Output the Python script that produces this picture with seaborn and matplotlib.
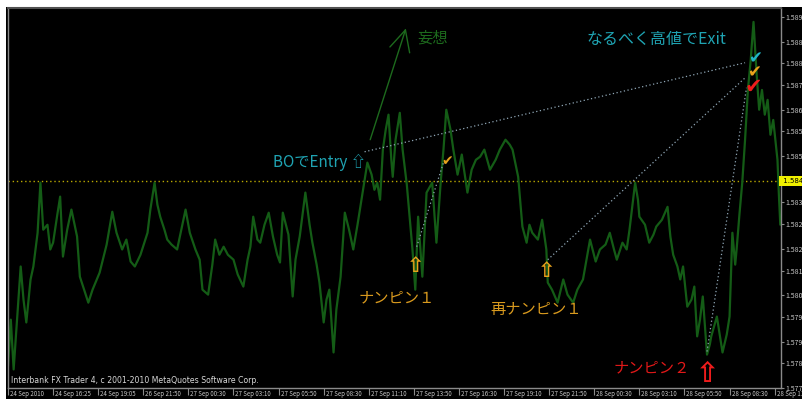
import matplotlib
matplotlib.use("Agg")
import matplotlib.pyplot as plt
import matplotlib.transforms as mtrans
import seaborn as sns
import pandas as pd
from matplotlib.patches import Rectangle

# ---------------- data ----------------
bars = [0, 2, 4, 9, 11, 13, 16, 18, 21, 23, 25, 28, 30, 32, 35, 37, 39, 42, 45, 49,
        51, 54, 57, 60, 65, 70, 74, 77, 81, 84, 87, 90, 94, 99, 101, 104, 106, 108, 111, 113,
        116, 120, 123, 126, 129, 133, 136, 138, 142, 145, 147, 150, 153, 156, 160, 163, 167, 170, 172, 174,
        177, 179, 182, 185, 188, 191, 193, 195, 199, 202, 204, 207, 209, 211, 214, 216, 219, 221, 224, 226,
        228, 231, 233, 236, 239, 242, 245, 248, 250, 253, 255, 258, 260, 262, 264, 266, 268, 270, 272, 273,
        275, 278, 280, 283, 285, 287, 289, 291, 294, 297, 301, 304, 307, 309, 311, 314, 316, 319, 322, 326,
        329, 332, 335, 338, 342, 346, 349, 353, 356, 358, 362, 365, 368, 370, 372, 376, 379, 382, 383, 386,
        390, 394, 397, 401, 404, 408, 413, 417, 420, 424, 427, 430, 432, 436, 439, 441, 445, 447, 448, 452,
        455, 458, 460, 464, 468, 470, 472, 475, 477, 479, 482, 485, 487, 489, 491, 493, 496, 498, 499, 503,
        505, 507, 510, 512, 514, 516, 517, 519, 521, 523, 525, 527, 529, 531, 533, 535, 537, 539, 541, 543,
        546, 547, 548]
prices = [1.57830, 1.57981, 1.57820, 1.58153, 1.58046, 1.57972, 1.58111, 1.58153, 1.58262, 1.58424,
          1.58272, 1.58288, 1.58208, 1.58230, 1.58321, 1.58379, 1.58185, 1.58272, 1.58337, 1.58250,
          1.58120, 1.58078, 1.58036, 1.58078, 1.58133, 1.58224, 1.58330, 1.58262, 1.58208, 1.58240,
          1.58169, 1.58153, 1.58191, 1.58262, 1.58337, 1.58424, 1.58353, 1.58314, 1.58272, 1.58240,
          1.58224, 1.58208, 1.58272, 1.58337, 1.58262, 1.58208, 1.58175, 1.58078, 1.58062, 1.58159,
          1.58240, 1.58191, 1.58217, 1.58191, 1.58175, 1.58127, 1.58088, 1.58175, 1.58217, 1.58314,
          1.58240, 1.58230, 1.58288, 1.58327, 1.58250, 1.58191, 1.58166, 1.58327, 1.58256, 1.58056,
          1.58175, 1.58250, 1.58321, 1.58392, 1.58288, 1.58230, 1.58159, 1.58101, 1.57972, 1.58046,
          1.58078, 1.57875, 1.58014, 1.58120, 1.58327, 1.58272, 1.58208, 1.58288, 1.58346, 1.58434,
          1.58489, 1.58450, 1.58401, 1.58424, 1.58369, 1.58531, 1.58595, 1.58644, 1.58498, 1.58443,
          1.58563, 1.58650, 1.58531, 1.58417, 1.58314, 1.58208, 1.58078, 1.58314, 1.58120, 1.58392,
          1.58424, 1.58230, 1.58424, 1.58531, 1.58660, 1.58595, 1.58531, 1.58450, 1.58515, 1.58392,
          1.58466, 1.58498, 1.58508, 1.58531, 1.58466, 1.58498, 1.58531, 1.58563, 1.58547, 1.58531,
          1.58443, 1.58282, 1.58230, 1.58288, 1.58262, 1.58240, 1.58304, 1.58208, 1.58101, 1.58078,
          1.58036, 1.58111, 1.58062, 1.58036, 1.58078, 1.58111, 1.58240, 1.58169, 1.58208, 1.58224,
          1.58262, 1.58208, 1.58175, 1.58230, 1.58208, 1.58272, 1.58424, 1.58369, 1.58314, 1.58288,
          1.58230, 1.58256, 1.58282, 1.58304, 1.58346, 1.58250, 1.58191, 1.58153, 1.58111, 1.58153,
          1.58023, 1.58046, 1.58088, 1.57927, 1.57981, 1.58056, 1.57868, 1.57901, 1.57927, 1.57991,
          1.57933, 1.57875, 1.57933, 1.57991, 1.58262, 1.58159, 1.58208, 1.58321, 1.58424, 1.58563,
          1.58724, 1.58821, 1.58944, 1.58789, 1.58660, 1.58724, 1.58644, 1.58692, 1.58579, 1.58627,
          1.58498, 1.58385, 1.58288]

bid_price = 1.58430
bid_label = "1.5843"

ytick_labels = ["1.5896", "1.5888", "1.5881", "1.5874", "1.5866", "1.5859", "1.5851",
                "1.5836", "1.5829", "1.5821", "1.5814", "1.5806", "1.5799", "1.5791",
                "1.5784", "1.5776"]
xtick_bars = [0, 32, 64, 96, 128, 160, 192, 224, 256, 288, 320, 352, 384, 416, 448, 480, 512, 544]
xtick_labels = ["24 Sep 2010", "24 Sep 16:25", "24 Sep 19:05", "26 Sep 21:50", "27 Sep 00:30",
                "27 Sep 03:10", "27 Sep 05:50", "27 Sep 08:30", "27 Sep 11:10", "27 Sep 13:50",
                "27 Sep 16:30", "27 Sep 19:10", "27 Sep 21:50", "28 Sep 00:30", "28 Sep 03:10",
                "28 Sep 05:50", "28 Sep 08:30", "28 Sep 11:10"]

# annotation anchors (bar, price)
dotted_from_bar = [253, 290, 383, 496]
dotted_from_price = [1.58524, 1.58217, 1.58175, 1.57878]
dotted_to_bar = [523, 309, 523, 524]
dotted_to_price = [1.58812, 1.58489, 1.58763, 1.58731]

check_bar = [530, 529, 529, 312]
check_price = [1.58826, 1.58782, 1.58734, 1.58495]
check_color = ["#21b5c4", "#e8a21c", "#ee1c1c", "#e8a21c"]
check_size = [12, 12, 15, 10]

arrow_bar = [289, 382, 496]
arrow_price = [1.58156, 1.58140, 1.57805]
arrow_color = ["#e8a21c", "#e8a21c", "#ee1c1c"]
arrow_size = [15, 15, 20]

label_texts = ["ナンピン１", "再ナンピン１", "ナンピン２", "なるべく高値でExit", "妄想"]
label_bar = [276, 375, 457, 460, 301]
label_price = [1.58053, 1.58014, 1.57826, 1.58886, 1.58892]
label_color = ["#d99a1e", "#d99a1e", "#e01818", "#1fa3b2", "#1d6a1d"]
label_size = [11, 11, 11, 11.5, 11]

hand_bar = [257, 282, 271, 282, 285]
hand_price = [1.58563, 1.58918, 1.58863, 1.58918, 1.58844]

entry_text = "BOでEntry ⇧"
entry_bar, entry_price = 254, 1.58489

# ---------------- figure ----------------
sns.set_theme(style="dark")
plt.rcParams["font.family"] = ["Noto Sans CJK JP", "DejaVu Sans"]

W, H = 803, 399
fig = plt.figure(figsize=(W / 100, H / 100), dpi=100, facecolor="white")
fig.patches.append(Rectangle((6 / W, 0), 1, (H - 7) / H, transform=fig.transFigure,
                             facecolor="black", edgecolor="none", zorder=-10))
ax = fig.add_axes([8 / W, (H - 388) / H, (781 - 8) / W, (388 - 8) / H])
ax.set_facecolor("black")

df = pd.DataFrame({"bar": bars, "price": prices})
sns.lineplot(data=df, x="bar", y="price", ax=ax, color="#145c16", lw=1.6,
             estimator=None, sort=False, zorder=2)

ax.set_xlim(0, 548.5)
ax.set_ylim(1.57760, 1.58989)
ax.set_xlabel("")
ax.set_ylabel("")
ax.grid(False)

for s in ax.spines.values():
    s.set_color("#8a8a8a")
    s.set_linewidth(1.0)
ax.spines["top"].set_color("#505050")
ax.spines["top"].set_linewidth(1.5)

# right price axis
ax.yaxis.tick_right()
ax.set_yticks([float(v) for v in ytick_labels])
ax.set_yticklabels(ytick_labels)
ax.tick_params(axis="y", which="both", right=True, left=False, length=2, width=0.8,
               color="#8a8a8a", labelsize=5, labelcolor="#c8c8c8", pad=1)

# bottom time axis
ax.set_xticks(xtick_bars)
ax.set_xticklabels(xtick_labels, ha="left")
ax.tick_params(axis="x", which="both", bottom=True, length=5, width=0.8,
               color="#8a8a8a", labelsize=4.4, labelcolor="#c8c8c8", pad=-3.2)
for lab in ax.get_xticklabels():
    lab.set_transform(lab.get_transform() + mtrans.ScaledTranslation(2 / 100, 0, fig.dpi_scale_trans))

# bid line
ax.axhline(bid_price, color="#b8a800", lw=1.0, ls=(0, (1, 2)), zorder=1)
fig.text(781.5 / W, 1 - 181 / H, " " + bid_label + "   ", fontsize=5, color="black",
         va="center", ha="left", family=["DejaVu Sans"],
         bbox=dict(boxstyle="square,pad=0.3", fc="#f0f000", ec="none"), zorder=10)

# dotted connector lines
for xb, yb, xe, ye in zip(dotted_from_bar, dotted_from_price, dotted_to_bar, dotted_to_price):
    ax.plot([xb, xe], [yb, ye], color="#8fa6b5", lw=0.9, ls=(0, (1, 2)), zorder=3)

# hand drawn arrow
ax.plot(hand_bar[:2], hand_price[:2], color="#1d6a1d", lw=1.0, zorder=3)
ax.plot(hand_bar[2:4], hand_price[2:4], color="#1d6a1d", lw=1.0, zorder=3)
ax.plot(hand_bar[3:], hand_price[3:], color="#1d6a1d", lw=1.0, zorder=3)

# check marks
for xb, yb, c, s in zip(check_bar, check_price, check_color, check_size):
    ax.text(xb, yb, "✔", color=c, fontsize=s, ha="center", va="center",
            family=["DejaVu Sans"], zorder=5)

# up arrows
for xb, yb, c, s in zip(arrow_bar, arrow_price, arrow_color, arrow_size):
    ax.text(xb, yb, "⇧", color=c, fontsize=s, ha="center", va="center",
            family=["DejaVu Sans"], zorder=5, fontweight="bold")

# texts
for t, xb, yb, c, s in zip(label_texts, label_bar, label_price, label_color, label_size):
    ax.text(xb, yb, t, color=c, fontsize=s, ha="center", va="center", zorder=5,
            family=["Noto Sans CJK JP", "DejaVu Sans"])

ax.text(entry_bar, entry_price, entry_text, color="#1fa3b2", fontsize=11, ha="right",
        va="center", zorder=5, family=["Noto Sans CJK JP", "DejaVu Sans"])

ax.text(0.004, 0.008, "Interbank FX Trader 4, c 2001-2010 MetaQuotes Software Corp.",
        transform=ax.transAxes, fontsize=5.6, color="#d8d8d8", ha="left", va="bottom",
        family=["DejaVu Sans"], zorder=6)

fig.savefig("out.png", dpi=100, facecolor="white")
